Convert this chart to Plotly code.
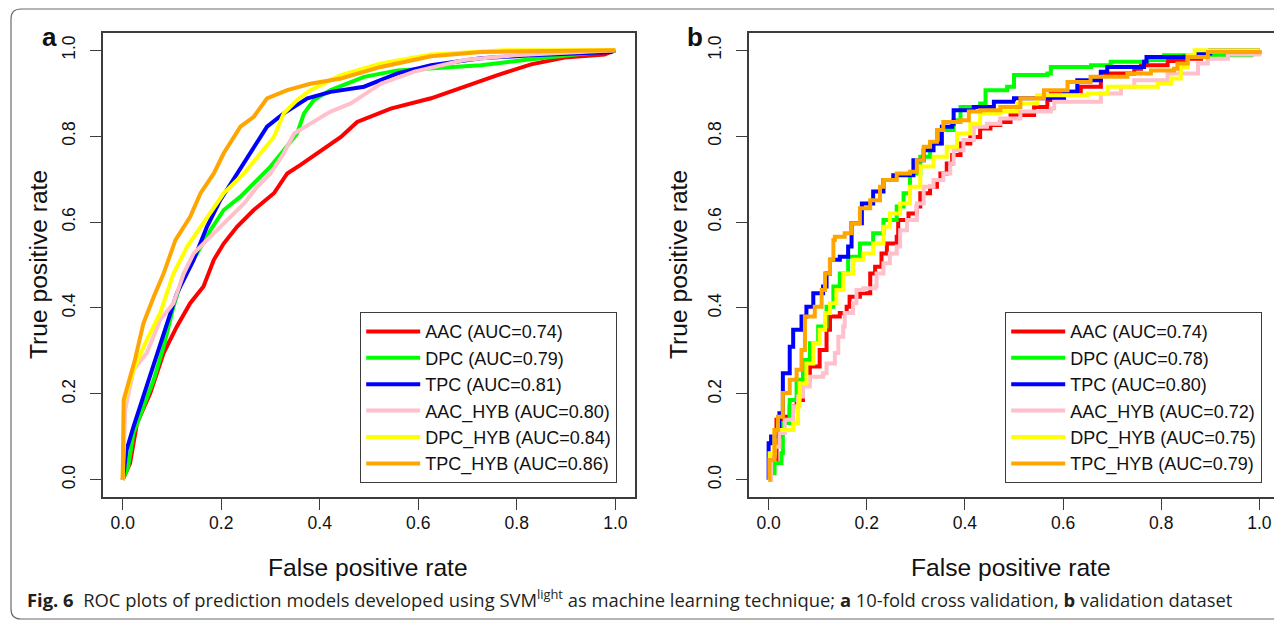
import plotly.graph_objects as go

# the page body adds an 8px margin, so the figure is drawn 8px smaller and shifted
OFF = 8
W, H = 1282 - OFF, 621 - OFF

MODELS = ["AAC", "DPC", "TPC", "AAC_HYB", "DPC_HYB", "TPC_HYB"]
COLORS = ["#FF0000", "#00FF00", "#0000FF", "#FFC0CB", "#FFFF00", "#FFA500"]
AUC_A = [0.74, 0.79, 0.81, 0.80, 0.84, 0.86]
AUC_B = [0.74, 0.78, 0.80, 0.72, 0.75, 0.79]
TICKS = [0.0, 0.2, 0.4, 0.6, 0.8, 1.0]
TICK_LABELS = ["0.0", "0.2", "0.4", "0.6", "0.8", "1.0"]

# (a) 10-fold cross validation
A_AAC_FPR = [0, 0.015, 0.029, 0.056, 0.083, 0.11, 0.137, 0.164, 0.185, 0.205, 0.232, 0.266, 0.307, 0.334,
             0.361, 0.395, 0.422, 0.443, 0.476, 0.544, 0.626, 0.693, 0.761, 0.829, 0.897, 0.978, 1.0]
A_AAC_TPR = [0, 0.039, 0.132, 0.202, 0.295, 0.357, 0.411, 0.45, 0.512, 0.55, 0.589, 0.628, 0.667, 0.713,
             0.733, 0.76, 0.783, 0.798, 0.833, 0.864, 0.888, 0.915, 0.942, 0.967, 0.983, 0.99, 1.0]
A_DPC_FPR = [0, 0.011, 0.022, 0.042, 0.063, 0.083, 0.103, 0.124, 0.151, 0.178, 0.205, 0.239, 0.266, 0.30,
             0.327, 0.354, 0.368, 0.388, 0.422, 0.49, 0.558, 0.646, 0.727, 0.829, 0.897, 1.0]
A_DPC_TPR = [0, 0.03, 0.109, 0.171, 0.233, 0.31, 0.403, 0.48, 0.527, 0.581, 0.628, 0.659, 0.69, 0.729,
             0.767, 0.806, 0.853, 0.884, 0.907, 0.938, 0.953, 0.959, 0.965, 0.979, 0.988, 1.0]
A_TPC_FPR = [0, 0.008, 0.022, 0.042, 0.063, 0.083, 0.11, 0.144, 0.171, 0.198, 0.232, 0.266, 0.293, 0.327,
             0.375, 0.422, 0.49, 0.558, 0.626, 0.727, 0.829, 0.992, 1.0]
A_TPC_TPR = [0, 0.07, 0.124, 0.194, 0.271, 0.341, 0.434, 0.512, 0.589, 0.651, 0.713, 0.775, 0.822, 0.853,
             0.888, 0.903, 0.915, 0.946, 0.965, 0.981, 0.988, 0.996, 1.0]
A_AACH_FPR = [0, 0.005, 0.022, 0.049, 0.076, 0.103, 0.124, 0.144, 0.178, 0.212, 0.246, 0.273, 0.30, 0.327,
              0.348, 0.381, 0.422, 0.463, 0.524, 0.592, 0.693, 0.795, 1.0]
A_AACH_TPR = [0, 0.163, 0.256, 0.295, 0.372, 0.411, 0.48, 0.527, 0.566, 0.605, 0.643, 0.682, 0.713, 0.76,
              0.806, 0.829, 0.857, 0.876, 0.922, 0.95, 0.977, 0.988, 1.0]
A_DPCH_FPR = [0, 0.003, 0.022, 0.049, 0.076, 0.103, 0.131, 0.171, 0.205, 0.246, 0.28, 0.307, 0.327, 0.354,
              0.381, 0.443, 0.524, 0.626, 0.774, 1.0]
A_DPCH_TPR = [0, 0.183, 0.256, 0.326, 0.388, 0.48, 0.543, 0.612, 0.667, 0.713, 0.76, 0.798, 0.853, 0.884,
              0.907, 0.942, 0.969, 0.99, 1.0, 1.0]
A_TPCH_FPR = [0, 0.002, 0.025, 0.042, 0.063, 0.083, 0.107, 0.137, 0.158, 0.185, 0.205, 0.239, 0.266, 0.293,
              0.334, 0.381, 0.443, 0.524, 0.626, 0.727, 1.0]
A_TPCH_TPR = [0, 0.186, 0.28, 0.364, 0.426, 0.48, 0.558, 0.612, 0.667, 0.713, 0.76, 0.822, 0.845, 0.888,
              0.907, 0.922, 0.934, 0.961, 0.986, 0.996, 1.0]

# (b) validation dataset
B_AAC_FPR = [0, 0.004, 0.016, 0.029, 0.043, 0.057, 0.07, 0.084, 0.104, 0.118, 0.125, 0.145, 0.159, 0.165,
             0.186, 0.207, 0.217, 0.23, 0.241, 0.261, 0.264, 0.285, 0.302, 0.309, 0.329, 0.343, 0.35, 0.363,
             0.374, 0.391, 0.411, 0.431, 0.452, 0.472, 0.493, 0.541, 0.568, 0.575, 0.636, 0.677, 0.745,
             0.759, 0.813, 0.847, 0.881, 0.915, 1.0]
B_AAC_TPR = [0, 0.046, 0.14, 0.147, 0.171, 0.186, 0.233, 0.264, 0.302, 0.349, 0.38, 0.388, 0.403, 0.426,
             0.434, 0.48, 0.496, 0.527, 0.55, 0.566, 0.605, 0.62, 0.636, 0.667, 0.682, 0.698, 0.713, 0.736,
             0.756, 0.783, 0.798, 0.818, 0.826, 0.833, 0.849, 0.868, 0.884, 0.903, 0.915, 0.946, 0.957,
             0.965, 0.975, 0.98, 0.992, 0.996, 1.0]
B_DPC_FPR = [0, 0.005, 0.012, 0.026, 0.029, 0.043, 0.057, 0.07, 0.084, 0.101, 0.118, 0.132, 0.145, 0.162,
             0.186, 0.213, 0.234, 0.261, 0.275, 0.288, 0.309, 0.329, 0.35, 0.377, 0.391, 0.431, 0.442, 0.486,
             0.5, 0.568, 0.575, 0.657, 0.697, 0.772, 0.806, 0.95, 0.984, 1.0]
B_DPC_TPR = [0, 0.015, 0.039, 0.062, 0.132, 0.186, 0.233, 0.279, 0.318, 0.357, 0.403, 0.45, 0.48, 0.519,
             0.55, 0.574, 0.605, 0.636, 0.667, 0.713, 0.752, 0.783, 0.814, 0.837, 0.868, 0.876, 0.907, 0.915,
             0.942, 0.946, 0.961, 0.965, 0.973, 0.977, 0.988, 0.988, 0.993, 1.0]
B_TPC_FPR = [0, 0, 0.005, 0.022, 0.029, 0.043, 0.05, 0.067, 0.077, 0.091, 0.111, 0.118, 0.125, 0.145, 0.162,
             0.169, 0.19, 0.213, 0.234, 0.254, 0.295, 0.316, 0.336, 0.353, 0.374, 0.377, 0.418, 0.459, 0.5,
             0.575, 0.602, 0.629, 0.677, 0.69, 0.765, 0.77, 0.847, 0.875, 0.9, 1.0]
B_TPC_TPR = [0, 0.085, 0.101, 0.155, 0.248, 0.31, 0.349, 0.38, 0.403, 0.434, 0.45, 0.48, 0.512, 0.519, 0.543,
             0.597, 0.643, 0.671, 0.698, 0.709, 0.744, 0.767, 0.783, 0.822, 0.829, 0.86, 0.868, 0.88, 0.888,
             0.888, 0.903, 0.93, 0.95, 0.961, 0.973, 0.984, 0.985, 0.992, 1.0, 1.0]
B_AACH_FPR = [0, 0.005, 0.012, 0.022, 0.033, 0.05, 0.06, 0.07, 0.084, 0.111, 0.118, 0.135, 0.142, 0.152,
              0.155, 0.172, 0.179, 0.193, 0.217, 0.22, 0.234, 0.247, 0.261, 0.268, 0.282, 0.302, 0.316, 0.336,
              0.356, 0.37, 0.377, 0.397, 0.418, 0.445, 0.472, 0.513, 0.575, 0.582, 0.677, 0.718, 0.745, 0.813,
              0.875, 0.895, 0.936, 1.0]
B_AACH_TPR = [0, 0.054, 0.077, 0.109, 0.14, 0.171, 0.194, 0.217, 0.24, 0.248, 0.271, 0.295, 0.333, 0.357,
              0.388, 0.411, 0.442, 0.446, 0.45, 0.48, 0.504, 0.527, 0.543, 0.581, 0.605, 0.643, 0.682, 0.698,
              0.713, 0.736, 0.767, 0.791, 0.822, 0.829, 0.841, 0.857, 0.864, 0.88, 0.899, 0.915, 0.93, 0.946,
              0.969, 0.98, 0.99, 1.0]
B_DPCH_FPR = [0, 0.002, 0.012, 0.036, 0.05, 0.06, 0.063, 0.077, 0.091, 0.104, 0.115, 0.125, 0.138, 0.152,
              0.172, 0.193, 0.213, 0.234, 0.247, 0.268, 0.288, 0.309, 0.336, 0.363, 0.384, 0.411, 0.431, 0.472,
              0.506, 0.547, 0.65, 0.691, 0.793, 0.82, 0.84, 0.854, 0.868, 1.0]
B_DPCH_TPR = [0, 0.062, 0.116, 0.116, 0.132, 0.171, 0.225, 0.271, 0.318, 0.349, 0.388, 0.411, 0.442, 0.48,
              0.512, 0.527, 0.55, 0.589, 0.62, 0.643, 0.682, 0.729, 0.752, 0.775, 0.806, 0.829, 0.853, 0.857,
              0.876, 0.895, 0.899, 0.915, 0.922, 0.934, 0.961, 0.988, 1.0, 1.0]
B_TPCH_FPR = [0, 0.002, 0.012, 0.019, 0.029, 0.043, 0.057, 0.067, 0.074, 0.094, 0.108, 0.115, 0.125, 0.132,
              0.135, 0.155, 0.169, 0.186, 0.186, 0.207, 0.227, 0.234, 0.261, 0.288, 0.302, 0.316, 0.329, 0.343,
              0.356, 0.391, 0.408, 0.431, 0.472, 0.513, 0.561, 0.609, 0.656, 0.731, 0.779, 0.826, 0.833, 0.854,
              0.895, 1.0]
B_TPCH_TPR = [0, 0.046, 0.116, 0.147, 0.202, 0.233, 0.256, 0.302, 0.38, 0.403, 0.442, 0.48, 0.512, 0.558,
              0.566, 0.574, 0.597, 0.612, 0.632, 0.651, 0.682, 0.698, 0.713, 0.717, 0.744, 0.775, 0.787, 0.814,
              0.833, 0.837, 0.857, 0.86, 0.868, 0.888, 0.907, 0.926, 0.938, 0.946, 0.953, 0.957, 0.969, 0.984,
              0.996, 1.0]

PANEL_A = [(A_AAC_FPR, A_AAC_TPR), (A_DPC_FPR, A_DPC_TPR), (A_TPC_FPR, A_TPC_TPR),
           (A_AACH_FPR, A_AACH_TPR), (A_DPCH_FPR, A_DPCH_TPR), (A_TPCH_FPR, A_TPCH_TPR)]
PANEL_B = [(B_AAC_FPR, B_AAC_TPR), (B_DPC_FPR, B_DPC_TPR), (B_TPC_FPR, B_TPC_TPR),
           (B_AACH_FPR, B_AACH_TPR), (B_DPCH_FPR, B_DPCH_TPR), (B_TPCH_FPR, B_TPCH_TPR)]

CAPTION = ("<b>Fig. 6</b>  ROC plots of prediction models developed using SVM<sup>light</sup> as machine "
           "learning technique; <b>a</b> 10-fold cross validation, <b>b</b> validation dataset")

FONT = "Liberation Sans, Arial, Helvetica, sans-serif"
AXIS_COLOR = "#3c3c3c"


def fx(px):
    # page pixel -> paper fraction
    return (px - OFF) / W


def fy(py):
    return 1 - (py - OFF) / H


fig = go.Figure()

for panel, data, aucs, shape in (("", PANEL_A, AUC_A, "linear"), ("2", PANEL_B, AUC_B, "hv")):
    for name, col, auc, (fpr, tpr) in zip(MODELS, COLORS, aucs, data):
        fig.add_trace(go.Scatter(
            x=fpr, y=tpr, mode="lines", name=f"{name} (AUC={auc:.2f})",
            line=dict(color=col, width=4, shape=shape),
            xaxis="x" + panel, yaxis="y" + panel,
            legend="legend" + panel,
        ))

axis_common = dict(
    range=[-0.04, 1.04], tickvals=TICKS, ticktext=TICK_LABELS,
    showline=True, mirror=True, linecolor=AXIS_COLOR, linewidth=1.5,
    ticks="outside", ticklen=11, tickwidth=1.3, tickcolor=AXIS_COLOR,
    showgrid=False, zeroline=False,
    tickfont=dict(family=FONT, size=17.5, color="#111"),
)

legend_common = dict(
    bgcolor="white", bordercolor=AXIS_COLOR, borderwidth=1.2,
    font=dict(family=FONT, size=18, color="#111"),
    xanchor="right", yanchor="bottom", itemwidth=54,
    tracegroupgap=0,
)

fig.update_layout(
    width=W, height=H,
    margin=dict(l=0, r=0, t=0, b=0),
    paper_bgcolor="white", plot_bgcolor="white",
    xaxis=dict(domain=[fx(103), fx(635)], anchor="y", ticklabelstandoff=-2, **axis_common),
    yaxis=dict(domain=[fy(497), fy(33)], anchor="x", tickangle=-90, ticklabelstandoff=8, **axis_common),
    xaxis2=dict(domain=[fx(749), fx(1279)], anchor="y2", ticklabelstandoff=-2, **axis_common),
    yaxis2=dict(domain=[fy(497), fy(33)], anchor="x2", tickangle=-90, ticklabelstandoff=8, **axis_common),
    legend=dict(x=fx(617), y=fy(483), **legend_common),
    legend2=dict(x=fx(1262), y=fy(483), **legend_common),
    showlegend=True,
)

# axis titles, panel letters and caption
title_font = dict(family=FONT, size=24.6, color="#111")
for cx, cy in ((368, 567), (1011, 567)):
    fig.add_annotation(text="False positive rate", x=fx(cx), y=fy(cy), xref="paper", yref="paper",
                       showarrow=False, font=title_font, xanchor="center", yanchor="middle")
for cx, cy in ((38, 265), (678, 265)):
    fig.add_annotation(text="True positive rate", x=fx(cx), y=fy(cy), xref="paper", yref="paper",
                       showarrow=False, font=title_font, textangle=-90, xanchor="center", yanchor="middle")
for letter, cx in (("a", 49), ("b", 695)):
    fig.add_annotation(text=f"<b>{letter}</b>", x=fx(cx), y=fy(37), xref="paper", yref="paper",
                       showarrow=False, font=dict(family=FONT, size=26, color="#111"),
                       xanchor="center", yanchor="middle")
fig.add_annotation(text=CAPTION, x=fx(25), y=fy(598), xref="paper", yref="paper", showarrow=False,
                   xanchor="left", yanchor="middle",
                   font=dict(family="Open Sans, Noto Sans, sans-serif", size=18.4, color="#231f20"))

# rounded frame around the figure (right side runs off the page)
x0, y0, x1, y1, r = fx(11), fy(9), fx(1300), fy(619), 10
rx, ry = r / W, r / H
frame = (f"M{x1},{y0} L{x0 + rx},{y0} Q{x0},{y0} {x0},{y0 - ry} "
         f"L{x0},{y1 + ry} Q{x0},{y1} {x0 + rx},{y1} L{x1},{y1}")
fig.add_shape(type="path", path=frame, xref="paper", yref="paper",
              line=dict(color="#6b6b6b", width=1.2), layer="below")

fig.write_html("out.html")
